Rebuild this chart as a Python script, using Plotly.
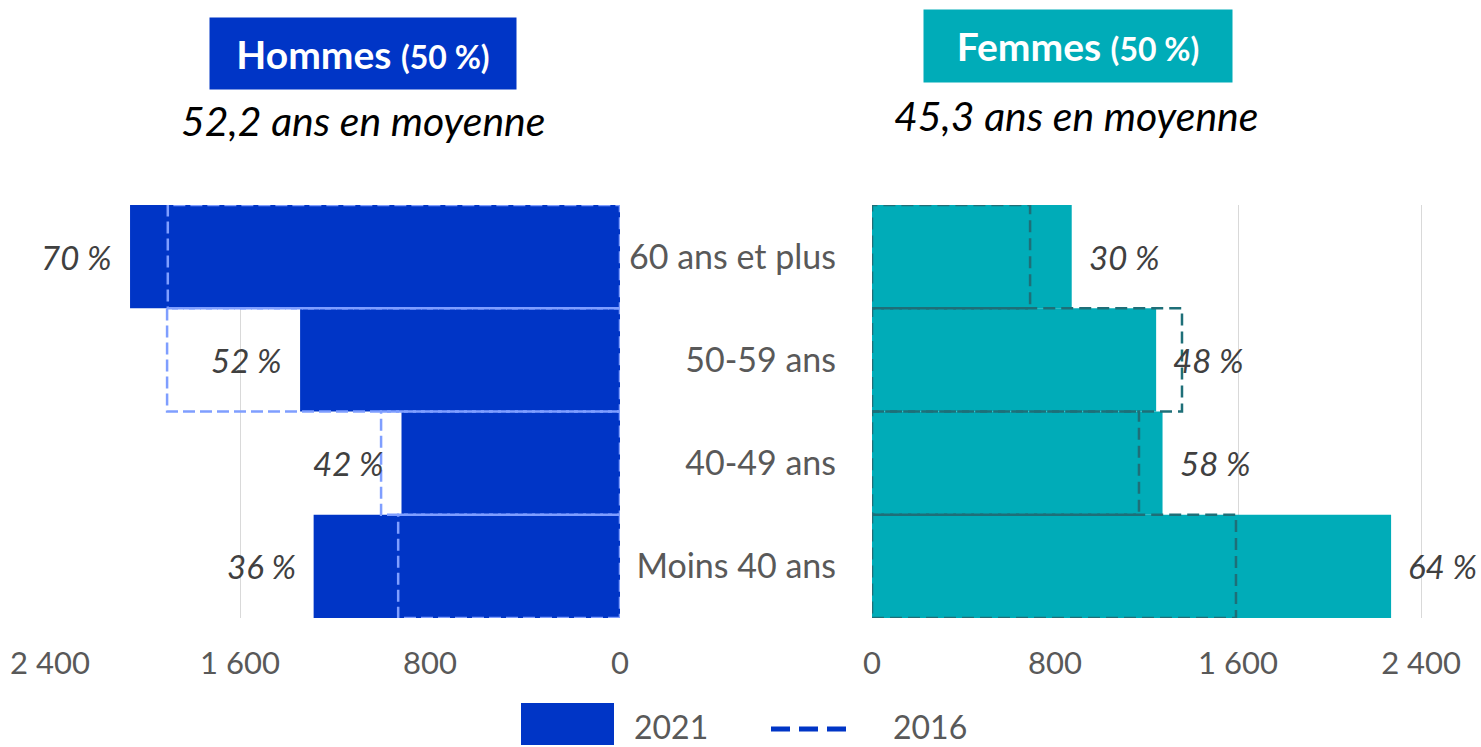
import plotly.graph_objects as go

# ---------------- data ----------------
categories = ["Moins 40 ans", "40-49 ans", "50-59 ans", "60 ans et plus"]
hommes_2021 = [1290, 920, 1347, 2063]
hommes_2016 = [934, 1006, 1907, 1904]
femmes_2021 = [2269, 1270, 1242, 873]
femmes_2016 = [1591, 1167, 1355, 691]
hommes_share = [36, 42, 52, 70]
femmes_share = [64, 58, 48, 30]
tick_vals = [0, 800, 1600, 2400]
tick_text = ["0", "800", "1 600", "2 400"]
legend_labels = ["2021", "2016"]

# ---------------- style ----------------
W, H = 1481, 747
FONT = "Lato"
C_MEN = "#0035C6"
C_MEN_DASH = "#7F9EFF"
C_WOM = "#00ACB8"
C_WOM_DASH = "#1E6F78"
GRID = "#D9D9D9"
TXT = "#595959"
LBL = "#404040"


def px_x(p):
    return p / W


def px_y(p):
    return 1 - p / H


def outline(values):
    xs, ys = [], []
    for i, v in enumerate(values):
        xs += [0, v, v, 0, 0, None]
        ys += [i - 0.5, i - 0.5, i + 0.5, i + 0.5, i - 0.5, None]
    return xs, ys


idx = list(range(len(categories)))
fig = go.Figure()

# Hommes
fig.add_trace(go.Bar(x=hommes_2021, y=idx, orientation="h", width=1,
                     marker=dict(color=C_MEN, line=dict(width=0)),
                     xaxis="x", yaxis="y", showlegend=False, hoverinfo="x+y"))
hx, hy = outline(hommes_2016)
fig.add_trace(go.Scatter(x=hx, y=hy, mode="lines",
                         line=dict(color=C_MEN_DASH, width=2.5, dash="12px,5px"),
                         xaxis="x", yaxis="y", showlegend=False, cliponaxis=False))

# Femmes
fig.add_trace(go.Bar(x=femmes_2021, y=idx, orientation="h", width=1,
                     marker=dict(color=C_WOM, line=dict(width=0)),
                     xaxis="x2", yaxis="y2", showlegend=False, hoverinfo="x+y"))
fx, fy = outline(femmes_2016)
fig.add_trace(go.Scatter(x=fx, y=fy, mode="lines",
                         line=dict(color=C_WOM_DASH, width=2.5, dash="12px,6px"),
                         xaxis="x2", yaxis="y2", showlegend=False, cliponaxis=False))

annotations = []
# percentage labels
for i, (v, s) in enumerate(zip(hommes_2021, hommes_share)):
    annotations.append(dict(x=v, y=i, xref="x", yref="y", text=f"<i>{s} %</i>",
                            showarrow=False, xanchor="right", xshift=-16,
                            font=dict(family=FONT, size=33, color=LBL)))
for i, (v, s) in enumerate(zip(femmes_2021, femmes_share)):
    annotations.append(dict(x=v, y=i, xref="x2", yref="y2", text=f"<i>{s} %</i>",
                            showarrow=False, xanchor="left", xshift=15,
                            font=dict(family=FONT, size=33, color=LBL)))

# titles
annotations.append(dict(x=px_x(363), y=px_y(53.5), xref="paper", yref="paper",
                        xanchor="center", yanchor="middle",
                        text="<b>Hommes <span style='font-size:32px'>(50 %)</span></b>",
                        showarrow=False, bgcolor=C_MEN, width=306, height=71,
                        borderpad=0, align="center", valign="middle",
                        font=dict(family=FONT, size=39, color="white")))
annotations.append(dict(x=px_x(1078), y=px_y(46), xref="paper", yref="paper",
                        xanchor="center", yanchor="middle",
                        text="<b>Femmes <span style='font-size:32px'>(50 %)</span></b>",
                        showarrow=False, bgcolor=C_WOM, width=308, height=72,
                        borderpad=0, align="center", valign="middle",
                        font=dict(family=FONT, size=39, color="white")))
annotations.append(dict(x=px_x(363), y=px_y(120), xref="paper", yref="paper",
                        xanchor="center", yanchor="middle",
                        text="<i>52,2 ans en moyenne</i>", showarrow=False,
                        font=dict(family=FONT, size=41, color="#000000")))
annotations.append(dict(x=px_x(1076), y=px_y(116), xref="paper", yref="paper",
                        xanchor="center", yanchor="middle",
                        text="<i>45,3 ans en moyenne</i>", showarrow=False,
                        font=dict(family=FONT, size=41, color="#000000")))

# legend (custom)
annotations.append(dict(x=px_x(632), y=px_y(726), xref="paper", yref="paper",
                        text=legend_labels[0], showarrow=False, xanchor="left",
                        yanchor="middle",
                        font=dict(family=FONT, size=32, color=TXT)))
annotations.append(dict(x=px_x(891), y=px_y(726), xref="paper", yref="paper",
                        text=legend_labels[1], showarrow=False, xanchor="left",
                        yanchor="middle",
                        font=dict(family=FONT, size=32, color=TXT)))

shapes = [
    dict(type="rect", xref="paper", yref="paper",
         x0=px_x(521), x1=px_x(614), y0=px_y(745), y1=px_y(703),
         fillcolor=C_MEN, line=dict(width=0)),
    dict(type="line", xref="paper", yref="paper",
         x0=px_x(771), x1=px_x(846), y0=px_y(729), y1=px_y(729),
         line=dict(color=C_MEN, width=5, dash="19px,9px")),
]

ydom = [px_y(618), px_y(205)]
fig.update_layout(
    template="none",
    width=W, height=H,
    autosize=False,
    margin=dict(l=0, r=0, t=0, b=0, pad=0),
    paper_bgcolor="white", plot_bgcolor="white",
    barmode="overlay",
    showlegend=False,
    font=dict(family=FONT, color=TXT),
    xaxis=dict(domain=[px_x(50), px_x(620)], range=[2400, 0], automargin=False,
               tickvals=tick_vals, ticktext=tick_text, showgrid=True,
               gridcolor=GRID, gridwidth=1, zeroline=False, showline=False,
               ticks="", ticklabelstandoff=24,
               tickfont=dict(family=FONT, size=31, color=TXT), anchor="y"),
    yaxis=dict(domain=ydom, range=[-0.5, 3.5], showticklabels=False, automargin=False,
               showgrid=False, zeroline=False, ticks="", anchor="x"),
    xaxis2=dict(domain=[px_x(872), 1.0], range=[0, 2662], automargin=False,
                tickvals=tick_vals, ticktext=tick_text, showgrid=True,
                gridcolor=GRID, gridwidth=1, zeroline=False, showline=False,
                ticks="", ticklabelstandoff=24,
                tickfont=dict(family=FONT, size=31, color=TXT), anchor="y2"),
    yaxis2=dict(domain=ydom, range=[-0.5, 3.5], tickvals=idx, ticktext=categories,
                showgrid=False, zeroline=False, ticks="", side="left", automargin=False,
                ticklabelstandoff=35,
                tickfont=dict(family=FONT, size=34, color=TXT), anchor="x2"),
    annotations=annotations,
    shapes=shapes,
)

fig.write_html("out.html", config={"displayModeBar": False},
               post_script="document.body.style.margin='0';document.body.style.overflow='hidden';")
